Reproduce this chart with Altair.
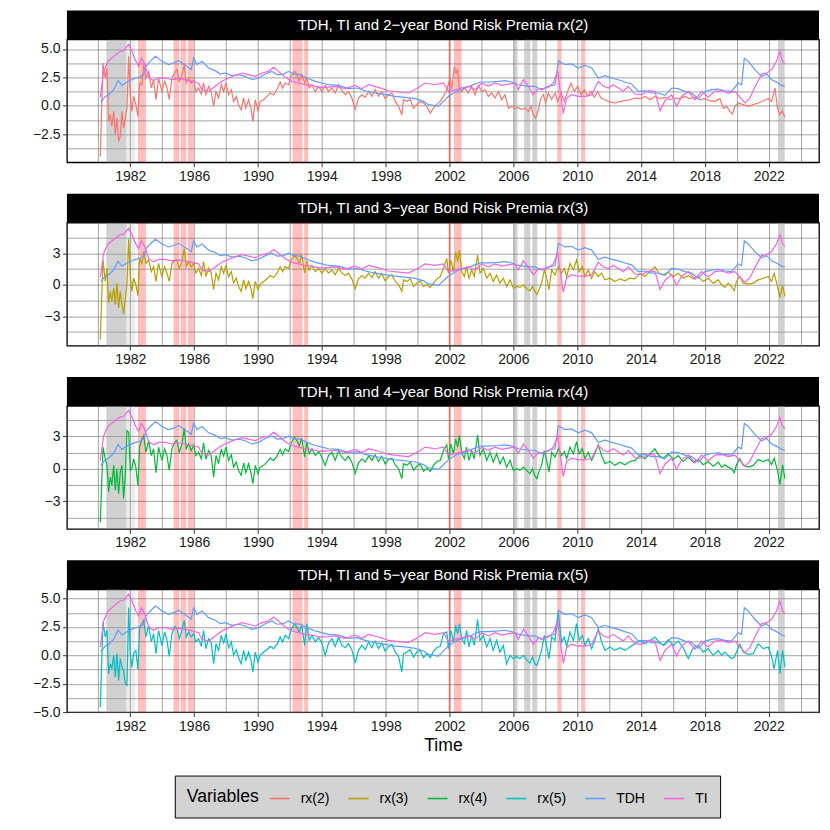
import altair as alt
import pandas as pd

# ---------------- data ----------------
T_LEFT = [1980.12,1980.29,1980.43,1980.54,1980.64,1980.75,1980.85,1980.96,1981.06,1981.16,
1981.27,1981.37,1981.48,1981.58,1981.69,1981.79,1981.90,1982.00,1982.10,1982.21,
1982.35,1982.48,1982.58,1982.73,1982.84,1982.98,1983.15,1983.32,1983.46,1983.61,
1983.77,1983.98,1984.15,1984.30,1984.44,1984.61,1984.78,1984.92,1985.07,1985.24,
1985.38,1985.51,1985.65,1985.82,1985.97,1986.11,1986.28,1986.45,1986.59,1986.74,
1986.91,1987.07,1987.22,1987.37,1987.53,1987.70,1987.85,1987.99,1988.16,1988.33,
1988.47,1988.64,1988.78,1988.95,1989.10,1989.24,1989.41,1989.56,1989.68,1989.83,
1990.00,1990.14,1990.35,1990.56,1990.77,1990.98,1991.19,1991.39,1991.54,1991.71,
1991.92,1992.08,1992.29,1992.44,1992.58,1992.75,1992.92,1993.06,1993.21,1993.38,
1993.59,1993.80,1994.00,1994.21,1994.42,1994.63,1994.84,1995.05,1995.26,1995.47,
1995.67,1995.88,1996.09,1996.30,1996.51,1996.72,1996.93,1997.14,1997.34,1997.55,
1997.76,1997.97,1998.18,1998.39,1998.60,1998.81,1999.01,1999.12,1999.33,1999.54,
1999.75,1999.95,2000.16,2000.37,2000.58,2000.79,2001.00,2001.21,2001.42,2001.62,
2001.83]

T_RIGHT = [2001.93,2002.09,2002.24,2002.39,2002.51,2002.62,2002.76,2002.93,2003.07,2003.22,
2003.39,2003.55,2003.76,2003.91,2004.12,2004.33,2004.54,2004.74,2004.95,2005.16,
2005.37,2005.58,2005.79,2006.00,2006.21,2006.41,2006.62,2006.83,2007.04,2007.19,
2007.35,2007.48,2007.63,2007.77,2007.94,2008.09,2008.23,2008.40,2008.61,2008.82,
2009.02,2009.19,2009.34,2009.55,2009.76,2009.96,2010.13,2010.32,2010.49,2010.69,
2010.90,2011.11,2011.32,2011.53,2011.74,2012.05,2012.36,2012.68,2012.99,2013.30,
2013.62,2013.93,2014.24,2014.56,2014.87,2015.12,2015.39,2015.71,2016.02,2016.33,
2016.64,2016.96,2017.27,2017.58,2017.90,2018.21,2018.52,2018.84,2019.05,2019.25,
2019.46,2019.67,2019.84,2019.98,2020.19,2020.40,2020.72,2021.03,2021.34,2021.66,
2021.97,2022.18,2022.34,2022.55,2022.70,2022.87,2023.01]

T_RX2_RIGHT = [2002.03,2002.14,2002.30,2002.41,2002.51,2002.62,2002.76,2002.97,2003.18,2003.39,
2003.60,2003.81,2004.02,2004.23,2004.43,2004.64,2004.85,2005.06,2005.27,2005.48,
2005.69,2005.90,2006.10,2006.31,2006.52,2006.73,2006.94,2007.11,2007.25,2007.40,
2007.57,2007.73,2007.88,2008.02,2008.19,2008.40,2008.61,2008.78,2008.99,2009.19,
2009.40,2009.61,2009.82,2010.03,2010.24,2010.45,2010.66,2010.86,2011.07,2011.28,
2011.49,2011.74,2012.05,2012.37,2012.68,2012.99,2013.31,2013.62,2013.93,2014.25,
2014.56,2014.87,2015.19,2015.50,2015.81,2016.13,2016.44,2016.75,2017.06,2017.38,
2017.69,2018.00,2018.32,2018.63,2018.94,2019.15,2019.36,2019.57,2019.72,2019.88,
2020.09,2020.40,2020.72,2021.03,2021.34,2021.66,2021.97,2022.18,2022.39,2022.55,
2022.70,2022.85,2023.01]

RX2_LEFT = [-4.47,3.76,2.44,3.32,-1.38,-0.79,-1.82,-0.5,-2.56,-1.09,
-3.15,-2.71,-0.5,-1.97,-1.09,-0.21,4.35,0.97,-0.5,0.82,
0.09,-0.94,2.0,1.85,3.62,2.44,3.03,1.56,2.29,0.53,
2.44,1.26,2.15,1.56,0.53,2.44,2.88,3.18,2.15,2.74,
3.56,2.0,2.44,2.0,2.29,1.26,1.56,1.03,2.0,0.97,
1.71,1.21,-0.06,1.26,0.68,1.85,1.26,2.0,0.97,1.41,
0.38,0.82,0.09,-0.35,0.68,-0.21,0.53,-0.21,-1.38,0.53,
-0.5,0.38,0.53,0.82,1.12,0.97,1.41,2.09,1.56,2.0,
1.85,2.59,3.03,2.74,2.15,2.74,2.0,2.44,1.56,1.85,
1.26,1.71,1.26,1.79,1.26,1.56,1.12,1.85,1.32,0.97,
1.26,0.68,-0.35,0.68,0.97,0.74,1.26,0.82,1.41,0.82,
1.26,0.62,0.97,1.12,0.38,-0.06,-0.79,0.53,0.38,0.53,
-0.21,0.09,0.38,0.24,-0.06,-0.65,-0.21,0.09,0.38,0.82,
1.41]
RX2_RIGHT = [2.44,1.41,3.47,2.88,3.18,1.56,1.26,1.56,1.12,1.71,
0.97,1.79,1.26,1.41,0.82,1.12,0.68,1.26,0.53,0.97,
-0.21,-0.06,-0.26,-0.15,-0.35,-0.21,-0.5,-0.06,-0.79,-1.09,
-0.35,0.68,0.97,0.24,1.12,0.53,1.12,0.38,1.12,0.38,
1.26,2.0,1.26,1.71,0.97,1.41,0.82,1.26,0.74,1.26,
0.68,0.53,0.32,0.24,0.38,0.44,0.53,0.68,0.62,0.82,
0.53,0.82,0.62,0.74,0.53,0.68,0.62,0.82,0.62,0.74,
0.53,0.62,0.44,0.38,0.62,-0.21,-0.06,-0.5,-0.74,-0.06,
0.24,0.09,-0.06,0.09,0.24,0.44,0.62,0.38,1.56,-0.21,
-0.79,-0.44,-1.03]

RX3_LEFT = [-5.21,2.37,0.32,1.58,-1.74,-0.63,-1.58,-0.32,-1.89,0.16,
-2.21,-0.63,-1.89,-2.78,-1.26,0.0,4.36,0.95,-0.63,0.63,
0.0,-1.04,2.53,2.05,3.16,2.05,2.37,1.26,1.74,0.32,
2.05,0.79,1.74,1.11,0.32,2.05,2.37,2.37,1.58,2.21,
3.47,1.74,2.21,1.74,2.05,1.11,1.58,0.88,2.21,0.79,
1.58,1.11,-0.47,1.11,0.47,1.74,1.11,1.89,0.79,1.26,
0.16,0.63,-0.16,-0.63,0.47,-0.38,0.32,-0.38,-1.33,0.32,
-0.47,0.06,0.32,0.57,0.88,0.69,1.11,1.74,1.26,1.74,
1.58,2.37,2.84,2.53,2.05,2.84,1.11,2.27,1.42,1.83,
1.26,1.58,1.11,1.58,1.11,1.42,0.95,1.58,1.11,0.88,
1.11,0.57,-0.38,0.57,0.88,0.63,1.11,0.69,1.26,0.63,
1.11,0.38,0.79,0.95,0.32,0.0,-0.63,0.47,0.32,0.57,
-0.16,0.16,0.38,-0.16,0.0,-0.25,0.16,0.57,0.79,1.58,
2.53]
RX3_RIGHT = [1.11,2.37,1.26,3.16,2.21,3.32,1.26,0.79,1.74,0.63,
1.42,0.79,2.84,1.11,1.58,0.63,1.11,0.32,0.95,0.16,
0.63,-0.16,0.47,-0.32,-0.16,-0.25,0.0,-0.38,-0.57,-0.16,
-0.63,-0.95,-0.38,0.16,1.42,0.63,-0.47,1.42,0.95,1.74,
1.11,1.58,0.79,2.05,1.42,2.37,1.26,1.74,0.79,1.42,
0.63,1.26,0.79,1.11,0.47,0.63,0.32,0.57,0.38,0.63,
0.57,1.11,0.79,1.26,1.74,1.11,0.95,1.2,0.79,1.11,
0.63,0.88,0.57,0.79,0.32,0.63,0.16,0.47,0.0,-0.25,
0.16,-0.16,-0.57,0.32,0.79,0.16,0.06,0.16,0.47,0.63,
0.79,0.32,1.11,-0.16,-1.2,-0.06,-1.11]

RX4_LEFT = [-4.96,1.99,0.92,0.31,-2.14,-0.77,-1.53,0.31,-1.99,0.0,
-2.3,-0.31,0.31,-2.75,-0.61,3.52,3.37,-0.15,0.0,0.92,
0.15,-1.59,1.99,2.75,3.06,1.53,2.6,1.22,1.84,-0.37,
1.99,0.77,1.84,1.22,-0.15,1.84,2.45,2.6,1.53,2.3,
3.73,1.84,2.3,1.68,2.2,1.22,1.53,0.92,2.39,0.86,
1.68,1.22,-0.77,1.22,0.46,1.84,1.16,1.99,0.77,1.29,
0.15,0.61,-0.15,-0.61,0.55,-0.37,0.46,-0.37,-1.38,0.31,
-0.46,0.15,0.31,0.61,0.98,0.77,1.16,1.78,1.29,1.84,
1.59,2.39,2.91,2.6,2.14,2.82,1.07,2.45,1.38,1.84,
1.22,1.59,1.07,0.31,1.22,1.53,0.77,1.68,1.07,0.77,
1.16,0.61,-0.46,0.55,0.92,0.61,1.16,0.77,1.29,0.67,
1.16,0.46,0.86,0.98,0.37,0.0,-0.92,0.46,0.31,0.61,
-0.15,0.24,0.46,-0.24,0.06,-0.24,0.31,0.67,0.77,1.68,
2.2]
RX4_RIGHT = [0.92,2.3,1.38,2.75,1.99,3.06,1.53,0.92,1.99,0.77,
1.68,0.92,3.12,1.22,1.84,0.77,1.53,0.61,1.38,0.46,
1.07,0.15,0.77,-0.15,0.0,-0.15,0.15,-0.15,-0.46,0.0,
-0.67,-0.92,-0.15,0.31,1.68,0.77,-0.31,1.53,1.07,1.84,
1.22,1.59,0.92,1.99,1.38,2.51,1.38,1.84,0.92,1.53,
0.77,1.38,2.2,1.22,0.46,0.67,0.31,0.61,0.37,0.67,
0.77,1.22,0.92,1.38,1.84,1.22,0.98,1.38,0.86,1.22,
0.67,1.07,0.61,0.86,0.37,0.67,0.24,0.61,0.15,0.37,
0.15,0.0,-0.37,0.37,0.92,0.31,0.15,0.31,0.86,0.67,
0.86,0.37,0.98,-0.15,-1.47,0.37,-0.92]

RX5_LEFT = [-4.56,2.94,1.62,2.21,-1.62,-0.74,-1.18,0.0,-1.91,0.15,
-2.21,-0.29,-1.03,-1.32,-2.5,-2.65,4.21,0.15,-1.03,0.15,
0.44,-1.26,2.35,2.79,3.09,1.62,2.65,1.18,1.91,0.15,
2.21,0.88,2.06,1.32,-0.09,1.91,2.56,2.35,1.47,2.21,
3.09,1.62,2.06,1.62,1.91,1.18,1.47,0.79,2.21,0.59,
1.47,1.09,-0.74,1.03,0.44,1.76,1.03,1.91,0.68,1.18,
0.0,0.5,-0.21,-0.74,0.44,-0.44,0.29,-0.44,-1.47,0.29,
-0.59,0.0,0.29,0.5,0.79,0.59,0.97,1.62,1.18,1.76,
1.47,2.26,2.79,2.44,2.06,2.65,0.88,2.79,1.32,1.76,
1.18,1.56,1.09,0.0,1.09,1.47,0.79,1.62,0.88,0.68,
1.03,0.5,-0.68,0.44,0.88,0.5,1.18,0.68,1.26,0.59,
1.09,0.38,0.79,0.97,0.29,-0.09,-1.47,0.15,0.29,0.5,
-0.15,0.29,0.44,-0.21,0.15,-0.21,0.38,0.68,0.79,1.91,
2.06]
RX5_RIGHT = [0.59,2.21,1.18,2.65,1.91,2.79,1.47,1.03,2.21,0.74,
1.76,0.88,3.15,1.32,1.76,0.74,1.47,0.44,1.32,0.29,
0.88,-0.74,0.0,-0.29,-0.09,-0.29,0.0,-0.38,-0.68,-0.15,
-0.74,-0.88,-0.21,0.44,1.76,0.79,-0.29,1.62,1.32,3.7,
1.18,1.62,0.74,2.06,1.32,2.79,1.32,1.76,0.88,1.47,
0.59,1.32,2.35,1.18,0.44,0.74,0.44,0.68,0.44,0.74,
1.03,1.32,1.03,1.32,1.62,1.18,0.88,1.38,0.88,1.26,
0.68,-0.29,0.68,0.88,0.29,0.59,0.0,0.44,0.0,0.29,
0.0,-0.29,-0.15,0.29,0.97,0.29,0.09,0.15,1.03,0.59,
0.74,-0.09,-1.18,0.44,-1.62,0.44,-1.03]

TDH_T = [1980.16,1980.43,1980.64,1980.96,1981.23,1981.48,1981.79,1982.31,1982.52,1982.84,
1982.98,1983.25,1983.57,1983.77,1983.98,1984.40,1984.71,1985.03,1985.40,1985.82,
1985.97,1986.18,1986.49,1986.91,1987.32,1987.64,1987.95,1988.37,1988.79,1989.20,
1989.62,1990.04,1990.46,1990.87,1991.19,1991.60,1991.92,1992.23,1992.65,1993.06,
1993.59,1994.00,1994.42,1995.05,1995.67,1996.20,1996.72,1997.34,1997.97,1998.60,
1999.22,1999.85,2000.37,2000.68,2001.31,2001.72,2001.93,2002.45,2002.97,2003.39,
2003.91,2004.43,2005.06,2005.48,2005.90,2006.31,2006.94,2007.36,2007.77,2008.19,
2008.61,2008.82,2009.24,2009.65,2010.07,2010.49,2010.91,2011.32,2011.74,2012.16,
2012.58,2012.99,2013.41,2013.83,2014.25,2014.66,2015.08,2015.50,2015.92,2016.33,
2016.75,2017.17,2017.59,2018.00,2018.42,2018.84,2019.26,2019.67,2020.09,2020.30,
2020.47,2020.72,2021.13,2021.55,2021.87,2022.18,2022.49,2022.81,2023.01]
TDH_V = [0.32,0.82,0.97,1.41,2.24,1.79,2.09,2.44,2.5,2.74,
3.47,3.91,4.35,4.15,3.91,3.62,3.76,3.97,3.62,3.18,
4.2,3.62,3.91,3.32,3.09,2.79,2.88,2.65,2.74,2.59,
2.29,2.44,2.79,3.03,2.74,2.79,3.03,2.79,2.74,2.44,
2.15,2.0,1.85,1.79,1.5,1.56,1.32,1.12,0.97,0.82,
0.74,0.62,0.38,0.09,-0.06,0.53,0.82,1.32,1.56,1.79,
2.09,2.09,2.15,2.21,2.09,1.85,1.71,1.71,1.41,1.71,
1.85,3.97,3.62,3.68,3.32,3.56,3.32,2.44,2.65,2.44,
2.29,2.09,1.91,1.26,1.32,1.12,1.12,0.91,1.56,1.5,
1.26,1.12,0.62,1.26,1.41,1.47,1.32,1.26,2.0,1.85,
4.2,3.91,3.18,2.59,2.79,2.29,2.09,1.79,1.71]

TI_T = [1980.12,1980.33,1980.60,1980.85,1981.10,1981.37,1981.58,1981.90,1982.10,1982.35,
1982.52,1982.69,1982.90,1983.15,1983.46,1983.77,1984.19,1984.61,1985.03,1985.44,
1985.86,1986.28,1986.49,1986.91,1987.32,1987.74,1988.16,1988.58,1988.99,1989.41,
1989.83,1990.25,1990.66,1990.98,1991.29,1991.71,1992.13,1992.54,1992.96,1993.38,
1993.80,1994.21,1994.84,1995.47,1996.09,1996.51,1996.93,1997.55,1998.18,1998.81,
1999.43,2000.06,2000.47,2001.09,2001.62,2001.93,2002.35,2002.76,2003.18,2003.60,
2004.02,2004.43,2004.85,2005.27,2005.69,2006.10,2006.31,2006.63,2006.94,2007.25,
2007.57,2007.88,2008.19,2008.50,2008.78,2008.92,2009.13,2009.34,2009.65,2010.07,
2010.49,2010.91,2011.32,2011.64,2011.95,2012.26,2012.58,2012.89,2013.20,2013.62,
2014.04,2014.46,2014.87,2015.19,2015.50,2015.92,2016.23,2016.54,2016.96,2017.38,
2017.80,2018.21,2018.63,2019.05,2019.47,2019.88,2020.20,2020.51,2020.82,2021.13,
2021.55,2021.87,2022.18,2022.49,2022.70,2022.85,2023.01]
TI_V = [0.74,3.03,3.91,4.2,4.5,4.79,4.85,5.4,4.79,3.91,
3.47,4.2,3.68,2.5,2.21,2.44,2.44,2.29,2.38,2.29,
2.15,2.0,1.41,1.26,1.71,2.15,2.44,2.68,2.88,2.74,
2.59,2.88,3.03,3.38,3.03,2.5,2.15,2.0,1.85,1.79,
1.62,1.62,1.71,1.5,1.79,1.5,1.85,1.62,1.32,1.21,
1.12,1.6,2.0,1.85,2.0,1.26,1.41,1.56,1.71,1.41,
2.0,1.71,2.0,1.79,1.91,2.0,1.41,2.29,1.71,0.97,
1.5,1.5,1.62,2.0,3.03,1.41,-0.7,0.68,0.97,0.82,
0.82,0.97,2.15,1.71,1.56,1.85,1.56,1.26,1.71,1.03,
0.97,1.32,1.26,-0.45,0.44,0.97,-0.06,0.82,1.26,0.53,
1.26,0.74,1.26,1.32,1.12,1.26,0.74,0.24,0.68,1.62,
2.79,2.88,3.18,3.91,4.79,3.97,3.68]

# shaded periods
GRAY_START = [1980.50, 2006.01, 2006.68, 2007.18, 2022.58]
GRAY_END = [1981.75, 2006.26, 2007.06, 2007.50, 2023.00]
LIGHT_START = [1981.75]
LIGHT_END = [1982.31]
PINK_START = [1982.48, 1984.71, 1985.15, 1985.61, 1992.16, 1992.89, 2001.95, 2001.95, 2002.27, 2008.75, 2010.23]
PINK_END = [1982.98, 1985.07, 1985.51, 1985.96, 1992.79, 1993.14, 2002.05, 2002.05, 2002.76, 2009.02, 2010.50]

VARIABLES = ["rx(2)", "rx(3)", "rx(4)", "rx(5)", "TDH", "TI"]
COLORS = ["#F8766D", "#B79F00", "#00BA38", "#00BFC4", "#619CFF", "#F564E3"]

TITLES = ["TDH, TI and 2\u2212year Bond Risk Premia rx(2)",
          "TDH, TI and 3\u2212year Bond Risk Premia rx(3)",
          "TDH, TI and 4\u2212year Bond Risk Premia rx(4)",
          "TDH, TI and 5\u2212year Bond Risk Premia rx(5)"]

X_TICKS = list(range(1980, 2025, 2))
Y_TICKS_A = [-3.75, -2.5, -1.25, 0.0, 1.25, 2.5, 3.75, 5.0]
Y_TICKS_B = [-4.5, -3.0, -1.5, 0.0, 1.5, 3.0, 4.5]
Y_TICKS_D = [-5.0, -3.75, -2.5, -1.25, 0.0, 1.25, 2.5, 3.75, 5.0]

SERIES = {
    "rx(2)": (T_LEFT + T_RX2_RIGHT, RX2_LEFT + RX2_RIGHT),
    "rx(3)": (T_LEFT + T_RIGHT, RX3_LEFT + RX3_RIGHT),
    "rx(4)": (T_LEFT + T_RIGHT, RX4_LEFT + RX4_RIGHT),
    "rx(5)": (T_LEFT + T_RIGHT, RX5_LEFT + RX5_RIGHT),
    "TDH": (TDH_T, TDH_V),
    "TI": (TI_T, TI_V),
}
for k, (t, v) in SERIES.items():
    if len(t) != len(v):
        raise ValueError(f"{k}: {len(t)} vs {len(v)}")

# ---------------- layout ----------------
W, H, STRIP = 753, 123, 29
XDOM = [1978.03, 2025.15]

gray_df = pd.DataFrame({"start": GRAY_START, "end": GRAY_END})
light_df = pd.DataFrame({"start": LIGHT_START, "end": LIGHT_END})
pink_df = pd.DataFrame({"start": PINK_START, "end": PINK_END})

x_test = "datum.value % 4 == 2"


def x_axis(show_title):
    kw = dict(values=X_TICKS, format="d", labelExpr=f"{x_test} ? datum.label : ''",
              tickOpacity={"condition": {"test": x_test, "value": 1}, "value": 0},
              labelOverlap=False, labelFlush=False)
    kw["title"] = "Time" if show_title else None
    return alt.Axis(**kw)


def panel(idx, rx, ydom, yticks, step, fmt, last):
    frames = []
    for name in [rx, "TDH", "TI"]:
        t, v = SERIES[name]
        frames.append(pd.DataFrame({"Time": t, "Value": v, "Variable": name}))
    df = pd.concat(frames, ignore_index=True)

    xs = alt.Scale(domain=XDOM, nice=False, zero=False)
    xa = x_axis(last)
    ys = alt.Scale(domain=ydom, nice=False, zero=False)
    y_test = f"abs(datum.value % {step}) < 0.001"
    ya = alt.Axis(values=yticks, format=fmt, labelExpr=f"{y_test} ? datum.label : ''",
                  tickOpacity={"condition": {"test": y_test, "value": 1}, "value": 0},
                  labelOverlap=False, labelFlush=False, title=None)

    def bands(d, color, op):
        return alt.Chart(d).mark_rect(color=color, opacity=op).encode(
            x=alt.X("start:Q", scale=xs, axis=xa),
            x2="end:Q",
            y=alt.value(0), y2=alt.value(H))

    lines = alt.Chart(df).mark_line(strokeWidth=1.2).encode(
        x=alt.X("Time:Q", scale=xs, axis=xa),
        y=alt.Y("Value:Q", scale=ys, axis=ya),
        color=alt.Color("Variable:N",
                        scale=alt.Scale(domain=VARIABLES, range=COLORS),
                        legend=alt.Legend(orient="none", legendX=108, legendY=737,
                                          direction="horizontal", title="Variables",
                                          titleOrient="left", fillColor="#d3d3d3",
                                          strokeColor="black", padding=12,
                                          symbolType="stroke", symbolStrokeWidth=1.6,
                                          symbolSize=400, labelFontSize=14,
                                          titleFontSize=17.6, titleFontWeight="normal",
                                          titlePadding=9, columnPadding=15,
                                          labelOffset=10, labelColor="black",
                                          titleColor="black")),
    )

    strip_df = pd.DataFrame({"label": [TITLES[idx]]})
    strip = alt.Chart(strip_df).mark_rect(color="black").encode(
        x=alt.value(0), x2=alt.value(W), y=alt.value(-STRIP), y2=alt.value(0))
    strip_text = alt.Chart(strip_df).mark_text(
        color="white", fontSize=15, baseline="middle", align="center",
        font="Liberation Sans").encode(
        x=alt.value(W / 2), y=alt.value(-STRIP / 2), text="label:N")

    return alt.layer(bands(gray_df, "#9a9a9a", 0.45), bands(light_df, "#9a9a9a", 0.18),
                     bands(pink_df, "#ff0000", 0.25), lines, strip, strip_text
                     ).properties(width=W, height=H)


p1 = panel(0, "rx(2)", [-4.99, 5.84], Y_TICKS_A, 2.5, ".1f", False)
p2 = panel(1, "rx(3)", [-5.82, 5.94], Y_TICKS_B, 3, "d", False)
p3 = panel(2, "rx(4)", [-5.56, 5.80], Y_TICKS_B, 3, "d", False)
p4 = panel(3, "rx(5)", [-5.0, 5.82], Y_TICKS_D, 2.5, ".1f", True)

chart = alt.vconcat(p1, p2, p3, p4, spacing=60.5, bounds="flush").resolve_scale(
    x="independent", y="independent", color="shared"
).properties(
    padding={"left": 23, "top": 1, "right": 2, "bottom": 2}
).configure(
    font="Liberation Sans"
).configure_view(
    stroke="black", strokeWidth=1.3
).configure_axis(
    gridColor="#666666", gridWidth=0.6, gridOpacity=1, domain=False,
    tickColor="#333333", tickSize=4.4, tickWidth=1,
    labelFontSize=14, labelColor="#1a1a1a", labelPadding=2.5,
    labelFont="Liberation Sans",
    titleFontSize=17.6, titleFontWeight="normal", titleColor="black",
    titleFont="Liberation Sans", titlePadding=4
)

chart.save("out.html", embed_options={"renderer": "svg", "actions": False})
